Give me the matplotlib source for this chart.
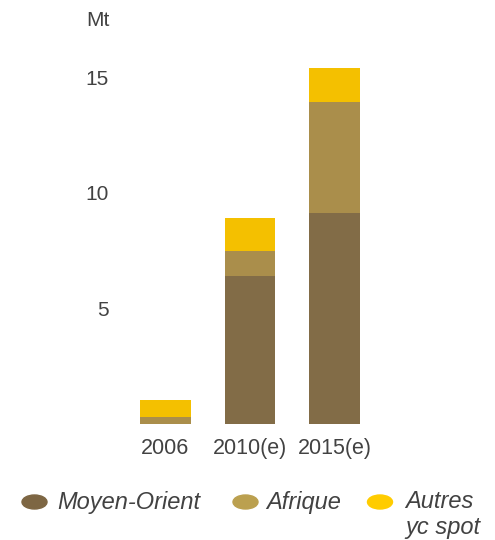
import numpy as np
import matplotlib
matplotlib.use('Agg')
import matplotlib.pyplot as plt
from matplotlib.patches import Ellipse

plt.rcParams['font.family'] = ['Liberation Sans', 'DejaVu Sans']

# data (Mt)
years = ['2006', '2010(e)', '2015(e)']
moyen_orient = [0.0, 6.4, 9.15]
afrique = [0.3, 1.1, 4.8]
autres = [0.75, 1.4, 1.45]
series_names = ['Moyen-Orient', 'Afrique', 'Autres\nyc spot']
y_ticks = [5, 10, 15]

bar_colors = ['#826C47', '#AA8E4B', '#F4C000']
legend_colors = ['#7D6643', '#BBA04F', '#FFCC00']
text_col = '#424242'

W, H = 495, 540
fig = plt.figure(figsize=(W / 100, H / 100), dpi=100)

# axes placed in pixels: bars centred at 165.5, 250, 335 px; zero at y=424 px
px_per_cat = 84.5
x0_px = 165.5
ax_left, ax_right = 120, 380
ax_bottom, ax_top = 424, 60
px_per_unit = 23.1
ax = fig.add_axes([ax_left / W, 1 - ax_bottom / H,
                   (ax_right - ax_left) / W, (ax_bottom - ax_top) / H])

x = np.arange(len(years))
bottom = np.zeros(len(years))
for vals, col in zip([moyen_orient, afrique, autres], bar_colors):
    ax.bar(x, vals, width=0.6, bottom=bottom, color=col, linewidth=0)
    bottom += np.array(vals)

ax.set_xlim((ax_left - x0_px) / px_per_cat, (ax_right - x0_px) / px_per_cat)
ax.set_ylim(0, (ax_bottom - ax_top) / px_per_unit)
ax.set_xticks(x)
ax.set_xticklabels(years, fontsize=15.5)
ax.set_yticks(y_ticks)
ax.set_yticklabels([str(t) for t in y_ticks], fontsize=15)
ax.tick_params(length=0, colors=text_col)
ax.tick_params(axis='y', pad=8)
ax.tick_params(axis='x', pad=10)
for s in ax.spines.values():
    s.set_visible(False)

fig.text(110 / W, 1 - 20 / H, 'Mt', ha='right', va='center',
         fontsize=15, color=text_col)

# legend drawn by hand
marker_x = [34.5, 245.5, 380]
text_x = [57, 266, 405]
leg_y = 502
for mx, tx, name, col in zip(marker_x, text_x, series_names, legend_colors):
    fig.patches.append(Ellipse((mx / W, 1 - leg_y / H), 25 / W, 14 / H,
                               transform=fig.transFigure, color=col))
    fig.text(tx / W, 1 - (leg_y - 11.5) / H, name, ha='left', va='top',
             fontsize=17, style='italic', color=text_col, linespacing=1.15)

fig.savefig('out.png', dpi=100)
